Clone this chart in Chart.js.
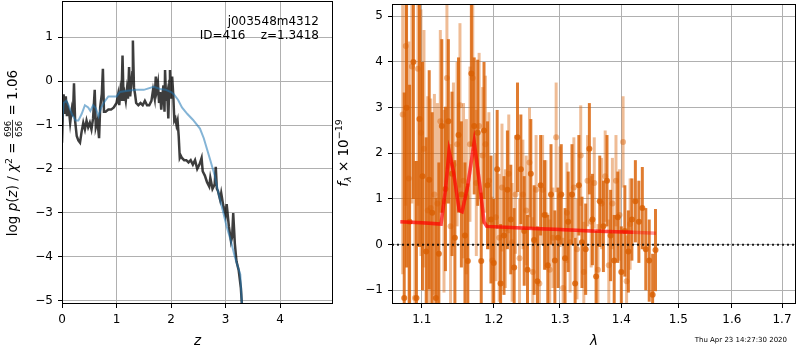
<!DOCTYPE html>
<html>
<head>
<meta charset="utf-8">
<script src="https://cdn.jsdelivr.net/npm/chart.js@4.4.0/dist/chart.umd.min.js"></script>
<style>
html, body { margin: 0; padding: 0; background: #fff; }
#wrap { position: relative; width: 800px; height: 350px; overflow: hidden; }
canvas { position: absolute; top: 0; }
</style>
</head>
<body>
<div id="wrap">
<canvas id="pz" width="334" height="350" style="left:0"></canvas>
<canvas id="spec" width="466" height="350" style="left:334px"></canvas>
</div>
<script>
// ---- p(z) panel
const zGrid = [0.00, 0.02, 0.03, 0.05, 0.07, 0.09, 0.11, 0.13, 0.15, 0.18, 0.20, 0.22, 0.24, 0.27, 0.30, 0.33, 0.36, 0.39, 0.42, 0.45,
    0.48, 0.51, 0.54, 0.57, 0.60, 0.62, 0.65, 0.68, 0.70, 0.73, 0.75, 0.77, 0.80, 0.85, 0.90, 0.95,
    1.00, 1.03, 1.05, 1.07, 1.09, 1.11, 1.13, 1.15, 1.17, 1.19, 1.21, 1.23, 1.25, 1.27, 1.29, 1.30, 1.32, 1.34, 1.36, 1.40,
    1.44, 1.48, 1.52, 1.56, 1.60, 1.64, 1.67, 1.70, 1.72, 1.74, 1.76, 1.78, 1.80, 1.82, 1.84, 1.86, 1.88, 1.89, 1.91, 1.93,
    1.95, 1.97, 1.98, 2.00, 2.02, 2.04,
    2.06, 2.08, 2.10, 2.12, 2.14, 2.16, 2.18, 2.20, 2.24, 2.28, 2.32, 2.36, 2.40, 2.44, 2.48, 2.52, 2.56, 2.58, 2.62, 2.66,
    2.70, 2.72, 2.76, 2.80, 2.82, 2.84, 2.86, 2.90, 2.92, 2.96, 3.00, 3.02, 3.06, 3.10, 3.12, 3.14, 3.17, 3.20, 3.24, 3.28, 3.30];
const logPz = [-1.40, -0.55, -0.30, -0.75, -0.35, -0.80, -0.60, -0.70, -0.95, -0.65, -0.80, -0.05, -0.90, -1.25, -1.35, -1.40, -1.15, -0.95, -1.10, -0.90,
    -1.05, -0.95, -1.10, -0.85, -0.20, -1.05, -0.90, -1.30, -0.60, -0.30, 0.28, -0.70, -0.70, -0.65, -0.65, -0.60,
    -0.50, -0.30, -0.55, -0.25, -0.45, 0.58, -0.45, -0.30, -0.45, -0.20, -0.40, 0.32, -0.35, -0.10, 0.20, 0.92, -0.15, -0.30, -0.50, -0.55,
    -0.50, -0.55, -0.45, -0.55, -0.55, -0.45, -0.20, -0.40, 0.10, -0.20, -0.05, -0.50, -0.25, -0.65, -0.35, -0.10, -0.70, 0.25, -0.45, -0.30,
    -0.85, 0.00, 0.25, -0.40, 0.10, -0.30,
    -0.90, -0.85, -1.00, -0.90, -1.25, -1.75, -1.70, -1.75, -1.80, -1.80, -1.85, -1.80, -1.90, -1.80, -2.00, -1.90, -1.75, -2.05, -2.15, -2.30,
    -2.40, -2.20, -2.45, -2.35, -1.95, -2.45, -2.50, -2.70, -2.55, -2.85, -3.05, -2.80, -3.30, -3.65, -3.55, -3.00, -3.70, -4.10, -4.30, -4.70, -5.10];
const zSmooth = [0.00, 0.03, 0.08, 0.12, 0.18, 0.25, 0.30, 0.36, 0.42, 0.48, 0.52, 0.57, 0.62, 0.67, 0.72, 0.79, 0.85, 0.95, 1.00, 1.06,
    1.20, 1.37, 1.50, 1.68, 1.80, 1.90, 2.00, 2.05, 2.13, 2.20, 2.30, 2.40, 2.53, 2.60, 2.66, 2.72, 2.80, 2.87, 2.95, 3.02,
    3.10, 3.17, 3.22, 3.27, 3.30];
const logPzSmooth = [-0.95, -0.50, -0.45, -0.55, -0.75, -0.90, -0.90, -0.75, -0.55, -0.60, -0.68, -0.55, -0.62, -0.80, -0.60, -0.45, -0.35, -0.35, -0.35, -0.25,
    -0.22, -0.20, -0.20, -0.13, -0.18, -0.20, -0.25, -0.30, -0.43, -0.60, -0.75, -0.88, -1.08, -1.30, -1.55, -1.80, -2.15, -2.55, -2.95, -3.31,
    -3.65, -4.00, -4.20, -4.40, -5.10];
const zTicks = [0, 1, 2, 3, 4];
const pzTicks = [-5, -4, -3, -2, -1, 0, 1];

// ---- spectrum panel
const lamA = [1.077, 1.080, 1.084, 1.089, 1.093, 1.097, 1.101, 1.106, 1.110, 1.114, 1.119, 1.123, 1.127, 1.132, 1.136, 1.141, 1.145, 1.150, 1.154, 1.159,
    1.163, 1.168, 1.172, 1.177, 1.182, 1.186, 1.191, 1.196, 1.200, 1.205, 1.210, 1.215, 1.220, 1.225, 1.230, 1.235, 1.240, 1.245, 1.250, 1.255,
    1.260, 1.265, 1.270, 1.276, 1.281, 1.286, 1.292, 1.297, 1.302, 1.308, 1.313, 1.319, 1.324, 1.330, 1.335, 1.341, 1.347, 1.352, 1.358, 1.364,
    1.370, 1.376, 1.382, 1.388, 1.394, 1.400, 1.406, 1.412, 1.418, 1.424, 1.430, 1.436, 1.442, 1.448, 1.454, 1.459];
const fluxA = [-1.17, 3.00, 0.50, 4.00, -1.17, 2.75, 1.50, -0.15, 1.42, 0.70, -1.17, -0.20, 2.60, 1.22, 2.70, 1.55, 0.15, 2.40, 1.10, 0.20,
    -0.36, 3.75, 2.60, 2.45, -0.36, 2.50, 1.30, 0.55, -0.40, 1.65, -0.85, 0.20, 1.20, 0.55, -0.50, 2.35, 1.65, 0.30, -0.55, 1.55,
    0.10, -0.80, 1.30, 0.65, -0.45, 1.10, -0.35, 0.15, 1.10, -0.30, 0.50, 1.10, -0.85, 1.30, 0.05, -0.10, 2.10, 0.55, -0.70, 0.95,
    0.40, 1.40, 0.20, -0.35, 0.60, -0.60, 0.30, -0.15, 0.55, 0.95, 0.50, 0.80, -0.10, -0.35, -1.10, -0.12];
const errA = [4.5, 3.5, 3.0, 3.0, 3.0, 2.8, 2.5, 2.5, 2.4, 2.2, 2.2, 2.0, 1.9, 1.8, 1.8, 1.8, 1.7, 1.7, 1.6, 1.6,
    1.7, 1.6, 1.5, 1.6, 1.5, 1.5, 1.4, 1.4, 1.4, 1.3, 1.3, 1.3, 1.3, 1.2, 1.3, 1.2, 1.2, 1.2, 1.2, 1.2,
    1.2, 1.2, 1.1, 1.2, 1.1, 1.1, 1.1, 1.1, 1.1, 1.1, 1.1, 1.1, 1.0, 1.1, 1.0, 1.0, 1.0, 1.0, 1.0, 1.0,
    1.0, 1.0, 1.0, 1.0, 1.0, 1.0, 1.0, 0.9, 0.9, 0.9, 0.9, 0.9, 0.9, 0.9, 0.9, 0.9];
const lamB = [1.075, 1.079, 1.083, 1.087, 1.091, 1.095, 1.099, 1.103, 1.108, 1.112, 1.117, 1.121, 1.125, 1.130, 1.134, 1.139, 1.143, 1.148, 1.152, 1.157,
    1.161, 1.166, 1.170, 1.175, 1.179, 1.184, 1.188, 1.193, 1.198, 1.203, 1.208, 1.212, 1.217, 1.222, 1.227, 1.232, 1.238, 1.243, 1.248, 1.253,
    1.258, 1.263, 1.268, 1.273, 1.278, 1.284, 1.289, 1.294, 1.300, 1.305, 1.311, 1.316, 1.322, 1.327, 1.333, 1.338, 1.344, 1.350, 1.355, 1.361,
    1.367, 1.373, 1.379, 1.385, 1.391, 1.397, 1.403, 1.409, 1.415];
const fluxB = [2.85, 4.35, 1.45, 3.90, -1.17, 3.85, 2.45, 2.10, 0.75, 0.80, 1.10, 0.90, 2.70, 0.95, 3.65, 0.40, 1.75, 2.20, 3.05, 1.40,
    1.05, 2.20, 3.65, 1.35, 2.60, 1.95, 2.20, 1.40, -0.35, 0.60, 0.15, 1.25, 0.35, 1.55, 0.05, 1.10, -0.30, 1.10, 0.75, 1.80,
    -0.60, 1.20, -0.85, 1.20, 0.65, -0.55, 0.15, 2.35, 1.05, -0.95, 0.70, 0.05, 1.25, -0.10, 1.95, -0.60, 1.40, 0.50, 1.35, -0.55,
    0.90, 1.50, -0.45, 0.90, 1.40, 0.65, 2.25, -0.80, 0.45];
const errB = [3.5, 3.5, 3.0, 3.0, 3.0, 3.0, 2.7, 2.6, 2.5, 2.4, 2.2, 2.2, 2.0, 2.0, 2.0, 1.8, 1.8, 1.8, 1.8, 1.7,
    1.7, 1.7, 1.6, 1.6, 1.6, 1.5, 1.5, 1.5, 1.4, 1.4, 1.4, 1.4, 1.3, 1.3, 1.3, 1.3, 1.3, 1.2, 1.2, 1.2,
    1.2, 1.2, 1.2, 1.2, 1.2, 1.1, 1.1, 1.2, 1.1, 1.1, 1.1, 1.1, 1.1, 1.1, 1.1, 1.1, 1.0, 1.0, 1.0, 1.0,
    1.0, 1.0, 1.0, 1.0, 1.0, 1.0, 1.0, 1.0, 1.0];
const modelLamA = [1.072, 1.100, 1.126, 1.132, 1.137, 1.143, 1.151, 1.155, 1.163, 1.172, 1.180, 1.186, 1.190, 1.250, 1.300, 1.350, 1.420];
const modelFluxA = [0.50, 0.48, 0.45, 1.20, 2.05, 1.60, 0.75, 0.72, 1.30, 2.25, 1.30, 0.50, 0.40, 0.36, 0.33, 0.30, 0.27];
const modelLamB = [1.072, 1.100, 1.126, 1.132, 1.137, 1.143, 1.151, 1.155, 1.163, 1.172, 1.180, 1.186, 1.190, 1.250, 1.300, 1.350, 1.420, 1.460];
const modelFluxB = [0.50, 0.48, 0.45, 1.20, 2.05, 1.60, 0.75, 0.72, 1.30, 2.25, 1.30, 0.50, 0.40, 0.36, 0.33, 0.30, 0.27, 0.25];
const zeroLam = [1.0612, 1.729];
const zeroFlux = [0, 0];
const lamTicks = [1.1, 1.2, 1.3, 1.4, 1.5, 1.6, 1.7];
const fluxTicks = [-1, 0, 1, 2, 3, 4, 5];

Chart.defaults.font.family = 'DejaVu Sans';
Chart.defaults.color = '#000';

const pts = (xs, ys) => xs.map((x, i) => ({ x: x, y: ys[i] }));
const num = v => (v < 0 ? '\u2212' + Math.abs(v) : '' + v);

function axisOpts(min, max, tickVals, size, horizontal, fmt) {
    return {
        min: min,
        max: max,
        afterBuildTicks: s => { s.ticks = tickVals.map(v => ({ value: v })); },
        afterFit: s => {
            if (horizontal) s.height = size; else s.width = size;
            // no extra room for labels at the ends, the frame must sit at the edges
            s.paddingTop = 0; s.paddingBottom = 0; s.paddingLeft = 0; s.paddingRight = 0;
        },
        border: { display: false },
        grid: { color: '#b0b0b0', lineWidth: 1, tickColor: '#000', tickLength: 4 },
        ticks: { font: { size: 12 }, color: '#000', padding: 5, maxRotation: 0, autoSkip: false, callback: fmt || num }
    };
}

// draws one row of text pieces rotated by -90deg, centred on cy, baseline at cx
function rotatedLabel(ctx, cx, cy, parts) {
    ctx.save();
    ctx.translate(cx, cy);
    ctx.rotate(-Math.PI / 2);
    ctx.fillStyle = '#000';
    ctx.textBaseline = 'alphabetic';
    ctx.textAlign = 'left';
    let total = 0;
    parts.forEach(p => {
        ctx.font = p.font;
        if (p.frac) {
            p.w = Math.max(ctx.measureText(p.frac[0]).width, ctx.measureText(p.frac[1]).width) + 2;
        } else {
            p.w = ctx.measureText(p.t).width;
        }
        total += p.w;
    });
    let x = -total / 2;
    parts.forEach(p => {
        ctx.font = p.font;
        if (p.frac) {
            ctx.textAlign = 'center';
            ctx.fillText(p.frac[0], x + p.w / 2, -6.5);
            ctx.fillText(p.frac[1], x + p.w / 2, 4.5);
            ctx.fillRect(x, -4.8, p.w, 0.8);
            ctx.textAlign = 'left';
        } else {
            ctx.fillText(p.t, x, p.dy || 0);
        }
        x += p.w;
    });
    ctx.restore();
}

function frame(chart) {
    const a = chart.chartArea, ctx = chart.ctx;
    ctx.save();
    ctx.strokeStyle = '#000';
    ctx.lineWidth = 1;
    ctx.strokeRect(Math.round(a.left) + 0.5, Math.round(a.top) + 0.5, Math.round(a.right - a.left) - 1, Math.round(a.bottom - a.top) - 1);
    ctx.restore();
}

const N = '13.5px DejaVu Sans', I = 'italic 13.5px DejaVu Sans', S = '9.5px DejaVu Sans', SI = 'italic 9.5px DejaVu Sans';

const pzText = {
    id: 'pzText',
    afterDraw(chart) {
        frame(chart);
        const ctx = chart.ctx;
        ctx.save();
        ctx.fillStyle = '#000';
        ctx.font = '12px DejaVu Sans';
        ctx.textAlign = 'right';
        ctx.fillText('j003548m4312', 319, 25);
        ctx.fillText('ID=416    z=1.3418', 319, 38.5);
        ctx.textAlign = 'center';
        ctx.font = I;
        ctx.fillText('z', (chart.chartArea.left + chart.chartArea.right) / 2, 345);
        ctx.restore();
        rotatedLabel(ctx, 17, 153, [
            { t: 'log ', font: N }, { t: 'p', font: I }, { t: '(', font: N }, { t: 'z', font: I },
            { t: ') / ', font: N }, { t: '\u03c7', font: I }, { t: '2', font: S, dy: -5.5 }, { t: ' = ', font: N },
            { frac: ['696', '656'], font: '8.5px DejaVu Sans' }, { t: ' = 1.06', font: N }
        ]);
    }
};

new Chart(document.getElementById('pz'), {
    type: 'scatter',
    data: {
        datasets: [
            { data: pts(zSmooth, logPzSmooth), showLine: true, borderColor: 'rgba(31,119,180,0.55)', borderWidth: 2, pointRadius: 0, order: 1 },
            { data: pts(zGrid, logPz), showLine: true, borderColor: 'rgba(0,0,0,0.76)', borderWidth: 2.5, pointRadius: 0, order: 2 }
        ]
    },
    plugins: [pzText],
    options: {
        responsive: false,
        animation: false,
        layout: { padding: { top: 1, right: 1, left: 0, bottom: 0 } },
        plugins: { legend: { display: false }, tooltip: { enabled: false } },
        scales: {
            x: axisOpts(0, 4.97, zTicks, 46, true),
            y: axisOpts(-5.07, 1.82, pzTicks, 62, false)
        }
    }
});

// error bars drawn right under each scatter dataset
const errorBars = {
    id: 'errorBars',
    beforeDatasetDraw(chart, args) {
        const ds = chart.data.datasets[args.index];
        if (!ds.errs) return;
        const xs = chart.scales.x, ys = chart.scales.y, a = chart.chartArea, ctx = chart.ctx;
        ctx.save();
        ctx.beginPath();
        ctx.rect(a.left, a.top, a.right - a.left, a.bottom - a.top);
        ctx.clip();
        ctx.strokeStyle = ds.backgroundColor;
        ctx.lineWidth = 3;
        ds.data.forEach((p, i) => {
            const x = xs.getPixelForValue(p.x);
            ctx.beginPath();
            ctx.moveTo(x, ys.getPixelForValue(p.y - ds.errs[i]));
            ctx.lineTo(x, ys.getPixelForValue(p.y + ds.errs[i]));
            ctx.stroke();
        });
        ctx.restore();
    }
};

const specText = {
    id: 'specText',
    afterDraw(chart) {
        frame(chart);
        const ctx = chart.ctx;
        ctx.save();
        ctx.fillStyle = '#000';
        ctx.textAlign = 'center';
        ctx.font = I;
        ctx.fillText('\u03bb', (chart.chartArea.left + chart.chartArea.right) / 2, 345);
        ctx.font = '7px DejaVu Sans';
        ctx.textAlign = 'right';
        ctx.fillText('Thu Apr 23 14:27:30 2020', 453, 342);
        ctx.restore();
        rotatedLabel(ctx, 14, 153, [
            { t: 'f', font: I }, { t: '\u03bb', font: SI, dy: 3 }, { t: ' \u00d7 10', font: N }, { t: '\u221219', font: S, dy: -6 }
        ]);
    }
};

new Chart(document.getElementById('spec'), {
    type: 'scatter',
    data: {
        datasets: [
            { data: pts(zeroLam, zeroFlux), showLine: true, borderColor: 'rgba(0,0,0,0.85)', borderWidth: 2, borderDash: [2, 3], pointRadius: 0, order: 0 },
            { data: pts(modelLamA, modelFluxA), showLine: true, borderColor: 'rgba(255,0,0,0.5)', borderWidth: 3.5, pointRadius: 0, order: 1 },
            { data: pts(modelLamB, modelFluxB), showLine: true, borderColor: 'rgba(255,0,0,0.4)', borderWidth: 3.5, pointRadius: 0, order: 2 },
            { data: pts(lamA, fluxA), errs: errA, backgroundColor: 'rgba(217,95,2,0.82)', pointRadius: 3, pointBorderWidth: 0, order: 3 },
            { data: pts(lamB, fluxB), errs: errB, backgroundColor: 'rgba(217,95,2,0.42)', pointRadius: 3, pointBorderWidth: 0, order: 4 }
        ]
    },
    plugins: [errorBars, specText],
    options: {
        responsive: false,
        animation: false,
        layout: { padding: { top: 1, right: 1, left: 0, bottom: 0 } },
        plugins: { legend: { display: false }, tooltip: { enabled: false } },
        scales: {
            x: Object.assign(axisOpts(1.0612, 1.729, lamTicks, 46, true, v => v.toFixed(1)), { type: 'logarithmic' }),
            y: axisOpts(-1.30, 5.27, fluxTicks, 58, false)
        }
    }
});
</script>
</body>
</html>
